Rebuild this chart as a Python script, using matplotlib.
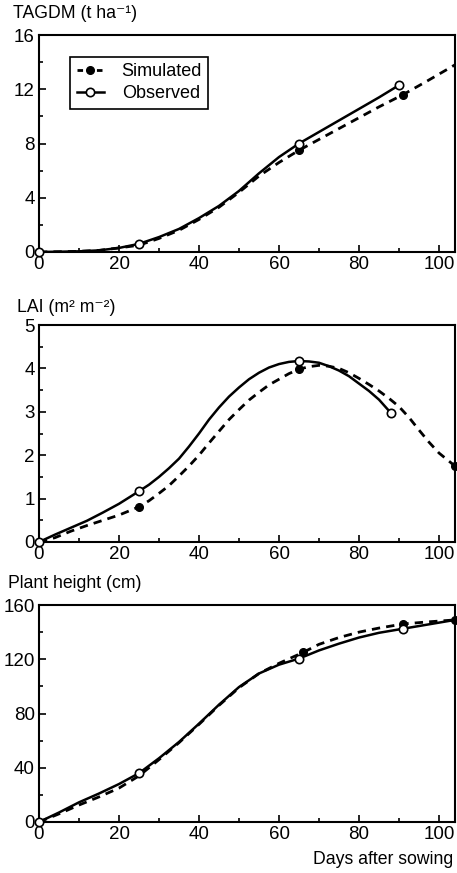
import numpy as np
import matplotlib
matplotlib.use("Agg")
import matplotlib.pyplot as plt
from matplotlib.lines import Line2D
from matplotlib.ticker import MultipleLocator

plt.rcParams['font.family'] = ['Liberation Sans', 'DejaVu Sans']

# TAGDM (t/ha)
tag_sim_days = [0, 5, 10, 15, 20, 25, 30, 35, 40, 45, 50, 55, 60, 65, 70, 75, 80, 85, 91, 97, 104]
tag_sim = [0, 0.02, 0.05, 0.12, 0.3, 0.5, 1.0, 1.6, 2.4, 3.3, 4.4, 5.6, 6.6, 7.5, 8.3, 9.1, 9.9, 10.7, 11.6, 12.6, 13.8]
tag_obs_days = [0, 5, 10, 15, 20, 25, 30, 35, 40, 45, 50, 55, 60, 65, 70, 75, 80, 85, 90]
tag_obs = [0, 0.02, 0.05, 0.12, 0.3, 0.6, 1.1, 1.7, 2.5, 3.4, 4.5, 5.8, 7.0, 8.0, 8.85, 9.7, 10.55, 11.4, 12.3]
tag_sim_pts_days = [65, 91]
tag_sim_pts = [7.5, 11.6]
tag_obs_pts_days = [0, 25, 65, 90]
tag_obs_pts = [0, 0.6, 8.0, 12.3]

# LAI (m2/m2)
lai_sim_days = [0, 4, 8, 12, 16, 20, 25, 27.5, 30, 32.5, 35, 37.5, 40, 42.5, 45, 47.5, 50, 52.5,
                55, 57.5, 60, 62.5, 65, 67.5, 70, 72.5, 75, 77.5, 80, 82.5, 85, 87.5, 90, 92.5,
                95, 97.5, 100, 104]
lai_sim = [0, 0.1, 0.25, 0.38, 0.5, 0.62, 0.81, 0.95, 1.12, 1.3, 1.52, 1.75, 2.0, 2.28, 2.55, 2.82,
           3.05, 3.27, 3.45, 3.62, 3.75, 3.88, 3.98, 4.04, 4.07, 4.05, 4.0, 3.9, 3.77, 3.63, 3.48,
           3.31, 3.12, 2.87, 2.58, 2.3, 2.05, 1.75]
lai_obs_days = [0, 4, 8, 12, 16, 20, 25, 27.5, 30, 32.5, 35, 37.5, 40, 42.5, 45, 47.5, 50, 52.5, 55,
                57.5, 60, 62.5, 65, 67.5, 70, 72.5, 75, 77.5, 80, 82.5, 85, 88]
lai_obs = [0, 0.17, 0.33, 0.49, 0.68, 0.88, 1.17, 1.32, 1.5, 1.7, 1.92, 2.2, 2.5, 2.82, 3.1, 3.35, 3.56,
           3.75, 3.9, 4.02, 4.1, 4.15, 4.17, 4.16, 4.13, 4.05, 3.95, 3.82, 3.65, 3.48, 3.28, 2.97]
lai_sim_pts_days = [25, 65, 104]
lai_sim_pts = [0.81, 3.98, 1.75]
lai_obs_pts_days = [0, 25, 65, 88]
lai_obs_pts = [0, 1.17, 4.17, 2.97]

# Plant height (cm)
ph_sim_days = [0, 5, 10, 15, 20, 25, 30, 35, 40, 45, 50, 55, 60, 66, 70, 75, 80, 85, 91, 97, 104]
ph_sim = [0, 6, 12.5, 18.5, 25, 34, 46, 58.5, 72, 86, 99, 109.5, 117, 125, 131, 136, 140, 143, 146, 147.5, 149]
ph_obs_days = [0, 5, 10, 15, 20, 25, 30, 35, 40, 45, 50, 55, 60, 65, 70, 75, 80, 85, 91, 97, 104]
ph_obs = [0, 7, 14.5, 21, 28, 36, 47, 59, 72.5, 86.5, 99.5, 109.5, 116, 120.5, 126.5, 131.5, 136, 139.5, 142.5, 145.5, 149]
ph_sim_pts_days = [66, 91, 104]
ph_sim_pts = [125, 146, 149]
ph_obs_pts_days = [0, 25, 65, 91]
ph_obs_pts = [0, 36, 120.5, 142.5]

fig = plt.figure(figsize=(4.57, 8.73), dpi=100)

left, width, height = 39 / 457, 416 / 457, 217 / 873
bottoms = [1 - 252 / 873, 1 - 542 / 873, 1 - 822 / 873]

panels = [
    (tag_sim_days, tag_sim, tag_obs_days, tag_obs, tag_sim_pts_days, tag_sim_pts,
     tag_obs_pts_days, tag_obs_pts, 16, 4, 2),
    (lai_sim_days, lai_sim, lai_obs_days, lai_obs, lai_sim_pts_days, lai_sim_pts,
     lai_obs_pts_days, lai_obs_pts, 5, 1, 0.5),
    (ph_sim_days, ph_sim, ph_obs_days, ph_obs, ph_sim_pts_days, ph_sim_pts,
     ph_obs_pts_days, ph_obs_pts, 160, 40, 20),
]

axes = []
for b, p in zip(bottoms, panels):
    sd, sv, od, ov, spd, spv, opd, opv, ymax, ymaj, ymin = p
    ax = fig.add_axes([left, b, width, height])
    ax.plot(sd, sv, color='black', lw=2.0, ls=(0, (3, 2.2)), zorder=2)
    ax.plot(od, ov, color='black', lw=1.8, zorder=3)
    ax.plot(spd, spv, 'o', color='black', ms=5.5, clip_on=False, zorder=4)
    ax.plot(opd, opv, 'o', mfc='white', mec='black', mew=1.2, ms=6, clip_on=False, zorder=5)
    ax.set_xlim(0, 104)
    ax.set_ylim(0, ymax)
    ax.xaxis.set_major_locator(MultipleLocator(20))
    ax.xaxis.set_minor_locator(MultipleLocator(10))
    ax.yaxis.set_major_locator(MultipleLocator(ymaj))
    ax.yaxis.set_minor_locator(MultipleLocator(ymin))
    ax.tick_params(which='both', direction='in', width=1.2, labelsize=13.5, pad=3)
    ax.tick_params(which='major', length=5)
    ax.tick_params(which='minor', length=3)
    for s in ax.spines.values():
        s.set_linewidth(1.5)
    axes.append(ax)

handles = [
    Line2D([], [], color='black', lw=2.0, ls=(0, (2, 1.5)), marker='o', ms=5.5),
    Line2D([], [], color='black', lw=1.8, marker='o', mfc='white', mec='black', mew=1.2, ms=6),
]
leg = axes[0].legend(handles, ['Simulated', 'Observed'], loc='upper left',
                     bbox_to_anchor=(0.075, 0.9), borderaxespad=0, fontsize=13,
                     fancybox=False, framealpha=1, edgecolor='black',
                     handlelength=1.5, handletextpad=1.0, borderpad=0.35, labelspacing=0.3)
leg.get_frame().set_linewidth(1.2)

fig.text(13 / 457, 1 - 14 / 873, 'TAGDM (t ha⁻¹)', fontsize=12.7, va='center', ha='left')
fig.text(17 / 457, 1 - 307 / 873, 'LAI (m² m⁻²)', fontsize=12.7, va='center', ha='left')
fig.text(8 / 457, 1 - 583 / 873, 'Plant height (cm)', fontsize=12.7, va='center', ha='left')
fig.text(453 / 457, 1 - 860 / 873, 'Days after sowing', fontsize=12.7, va='center', ha='right')

fig.savefig('out.png', dpi=100)
